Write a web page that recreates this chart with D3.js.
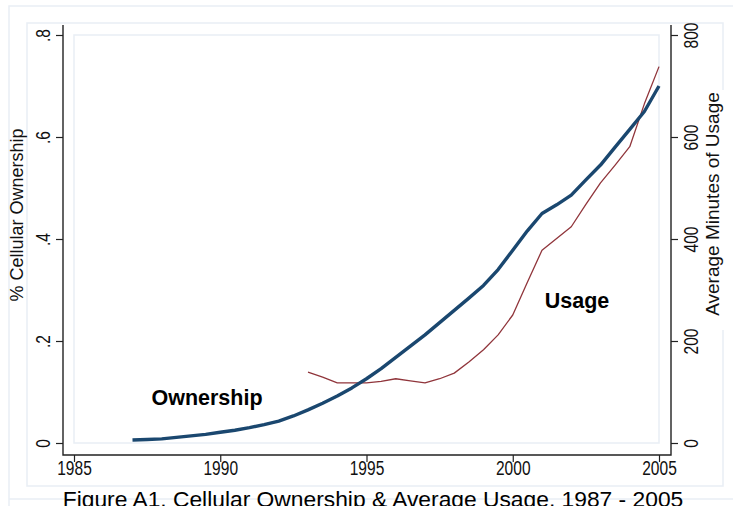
<!DOCTYPE html>
<html>
<head>
<meta charset="utf-8">
<script src="https://cdn.jsdelivr.net/npm/d3@7/dist/d3.min.js"></script>
<style>
  html, body { margin: 0; padding: 0; background: #fff; }
  svg { display: block; font-family: "Liberation Sans", Arial, sans-serif; }
</style>
</head>
<body>
<svg id="chart" width="733" height="506"></svg>
<script>
// Cellular ownership share (left axis), semi-annual readings 1987-2005
const ownYears = [1987, 1987.5, 1988, 1988.5, 1989, 1989.5, 1990, 1990.5, 1991, 1991.5,
  1992, 1992.5, 1993, 1993.5, 1994, 1994.5, 1995, 1995.5, 1996, 1996.5, 1997, 1997.5,
  1998, 1998.5, 1999, 1999.5, 2000, 2000.5, 2001, 2001.5, 2002, 2002.5, 2003, 2003.5,
  2004, 2004.5, 2005];
const ownership = [0.006, 0.007, 0.008, 0.011, 0.014, 0.017, 0.021, 0.025, 0.030, 0.036,
  0.043, 0.053, 0.065, 0.078, 0.092, 0.108, 0.126, 0.146, 0.168, 0.190, 0.212, 0.236,
  0.260, 0.284, 0.309, 0.340, 0.378, 0.416, 0.450, 0.467, 0.486, 0.516, 0.545, 0.580,
  0.615, 0.650, 0.700];

// Average minutes of usage (right axis), semi-annual readings 1993-2005
const useYears = [1993, 1993.5, 1994, 1994.5, 1995, 1995.5, 1996, 1996.5, 1997, 1997.5,
  1998, 1998.5, 1999, 1999.5, 2000, 2000.5, 2001, 2001.5, 2002, 2002.5, 2003, 2003.5,
  2004, 2004.5, 2005];
const usage = [139, 129, 118, 118, 118, 121, 126, 122, 118, 126,
  137, 159, 183, 212, 251, 315, 378, 401, 424, 468, 510, 545,
  581, 665, 738];

const xTicks = [1985, 1990, 1995, 2000, 2005];
const leftTicks = [0, 0.2, 0.4, 0.6, 0.8];
const rightTicks = [0, 200, 400, 600, 800];

const titleText = "Figure A1. Cellular Ownership & Average Usage, 1987 - 2005";
const leftTitle = "% Cellular Ownership";
const rightTitle = "Average Minutes of Usage";

const svg = d3.select("#chart");
const W = 733, H = 506;

const x = d3.scaleLinear().domain([1985, 2005]).range([74, 659]);
const yL = d3.scaleLinear().domain([0, 0.8]).range([443, 35]);
const yR = d3.scaleLinear().domain([0, 800]).range([443, 35]);

// plot region edges (axis lines sit on these)
const pr = { left: 63, right: 671, top: 25, bottom: 455 };

const faint = "#e9eef5";
const axisCol = "#222";
const tickFont = 21;      // tick labels are drawn narrow
const narrow = 0.74;

// background + outer frames
svg.append("rect").attr("width", W).attr("height", H).attr("fill", "#fff");
svg.append("path").attr("fill", "none").attr("stroke", faint).attr("stroke-width", 1.5)
  .attr("d", `M9,${H}V6H${W}M9,499H${W}`);
svg.append("rect").attr("x", 27).attr("y", 23).attr("width", 696).attr("height", 463)
  .attr("fill", "none").attr("stroke", faint).attr("stroke-width", 1.5);

// inner plot frame over the data range
svg.append("rect")
  .attr("x", x(1985)).attr("y", yL(0.8))
  .attr("width", x(2005) - x(1985)).attr("height", yL(0) - yL(0.8))
  .attr("fill", "none").attr("stroke", faint).attr("stroke-width", 1.5);

// axis lines
svg.append("path").attr("fill", "none").attr("stroke", axisCol).attr("stroke-width", 1.4)
  .attr("d", `M${pr.left},${pr.top}V${pr.bottom}H${pr.right}V${pr.top}`);

const fmtLeft = d => d === 0 ? "0" : d3.format(".1f")(d).replace(/^0/, "");

function styleTicks(g) {
  g.attr("font-size", tickFont).attr("font-family", "Liberation Sans, Arial, sans-serif");
  g.select(".domain").remove();
  g.selectAll("line").attr("stroke", axisCol).attr("stroke-width", 1.2);
  g.selectAll("text").attr("font-size", tickFont).attr("fill", "#111");
}

// bottom axis
const gx = svg.append("g").attr("transform", `translate(0,${pr.bottom})`)
  .call(d3.axisBottom(x).tickValues(xTicks).tickFormat(d3.format("d")).tickSize(7));
styleTicks(gx);
gx.selectAll("text").attr("x", 0).attr("y", 0).attr("dy", "0.36em")
  .attr("text-anchor", "middle")
  .attr("transform", `translate(0,12) scale(${narrow},1)`);

// left axis
const gl = svg.append("g").attr("transform", `translate(${pr.left},0)`)
  .call(d3.axisLeft(yL).tickValues(leftTicks).tickFormat(fmtLeft).tickSize(7));
styleTicks(gl);
gl.selectAll("text").attr("x", 0).attr("y", 0).attr("dy", "0.36em")
  .attr("text-anchor", "middle")
  .attr("transform", `translate(-21,0) rotate(-90) scale(${narrow},1)`);

// right axis
const gr = svg.append("g").attr("transform", `translate(${pr.right},0)`)
  .call(d3.axisRight(yR).tickValues(rightTicks).tickFormat(d3.format("d")).tickSize(7));
styleTicks(gr);
gr.selectAll("text").attr("x", 0).attr("y", 0).attr("dy", "0.36em")
  .attr("text-anchor", "middle")
  .attr("transform", `translate(19,0) rotate(-90) scale(${narrow},1)`);

// axis titles
svg.append("text").attr("transform", "translate(17,215) rotate(-90)")
  .attr("text-anchor", "middle").attr("dy", "0.36em")
  .attr("font-size", 18).attr("fill", "#111").text(leftTitle);
svg.append("rect").attr("x", 702).attr("y", 90).attr("width", 22).attr("height", 240).attr("fill", "#fff");
svg.append("text").attr("transform", "translate(712,204) rotate(-90)")
  .attr("text-anchor", "middle").attr("dy", "0.36em")
  .attr("font-size", 19).attr("fill", "#111").text(rightTitle);

// series
const ownLine = d3.line().x((d, i) => x(ownYears[i])).y(d => yL(d));
const useLine = d3.line().x((d, i) => x(useYears[i])).y(d => yR(d));

svg.append("path").datum(usage).attr("fill", "none")
  .attr("stroke", "#90353b").attr("stroke-width", 1.3)
  .attr("stroke-linejoin", "round").attr("d", useLine);
svg.append("path").datum(ownership).attr("fill", "none")
  .attr("stroke", "#1a476f").attr("stroke-width", 3.4)
  .attr("stroke-linejoin", "round").attr("d", ownLine);

// series labels
svg.append("text").attr("x", 207).attr("y", 397).attr("dy", "0.36em")
  .attr("text-anchor", "middle").attr("font-weight", "bold").attr("font-size", 21.5)
  .attr("fill", "#000").text("Ownership");
svg.append("text").attr("x", 577).attr("y", 300).attr("dy", "0.36em")
  .attr("text-anchor", "middle").attr("font-weight", "bold").attr("font-size", 21.5)
  .attr("fill", "#000").text("Usage");

// figure caption
svg.append("text").attr("x", 373).attr("y", 507)
  .attr("text-anchor", "middle").attr("font-size", 22.8).attr("fill", "#000")
  .text(titleText);
</script>
</body>
</html>
